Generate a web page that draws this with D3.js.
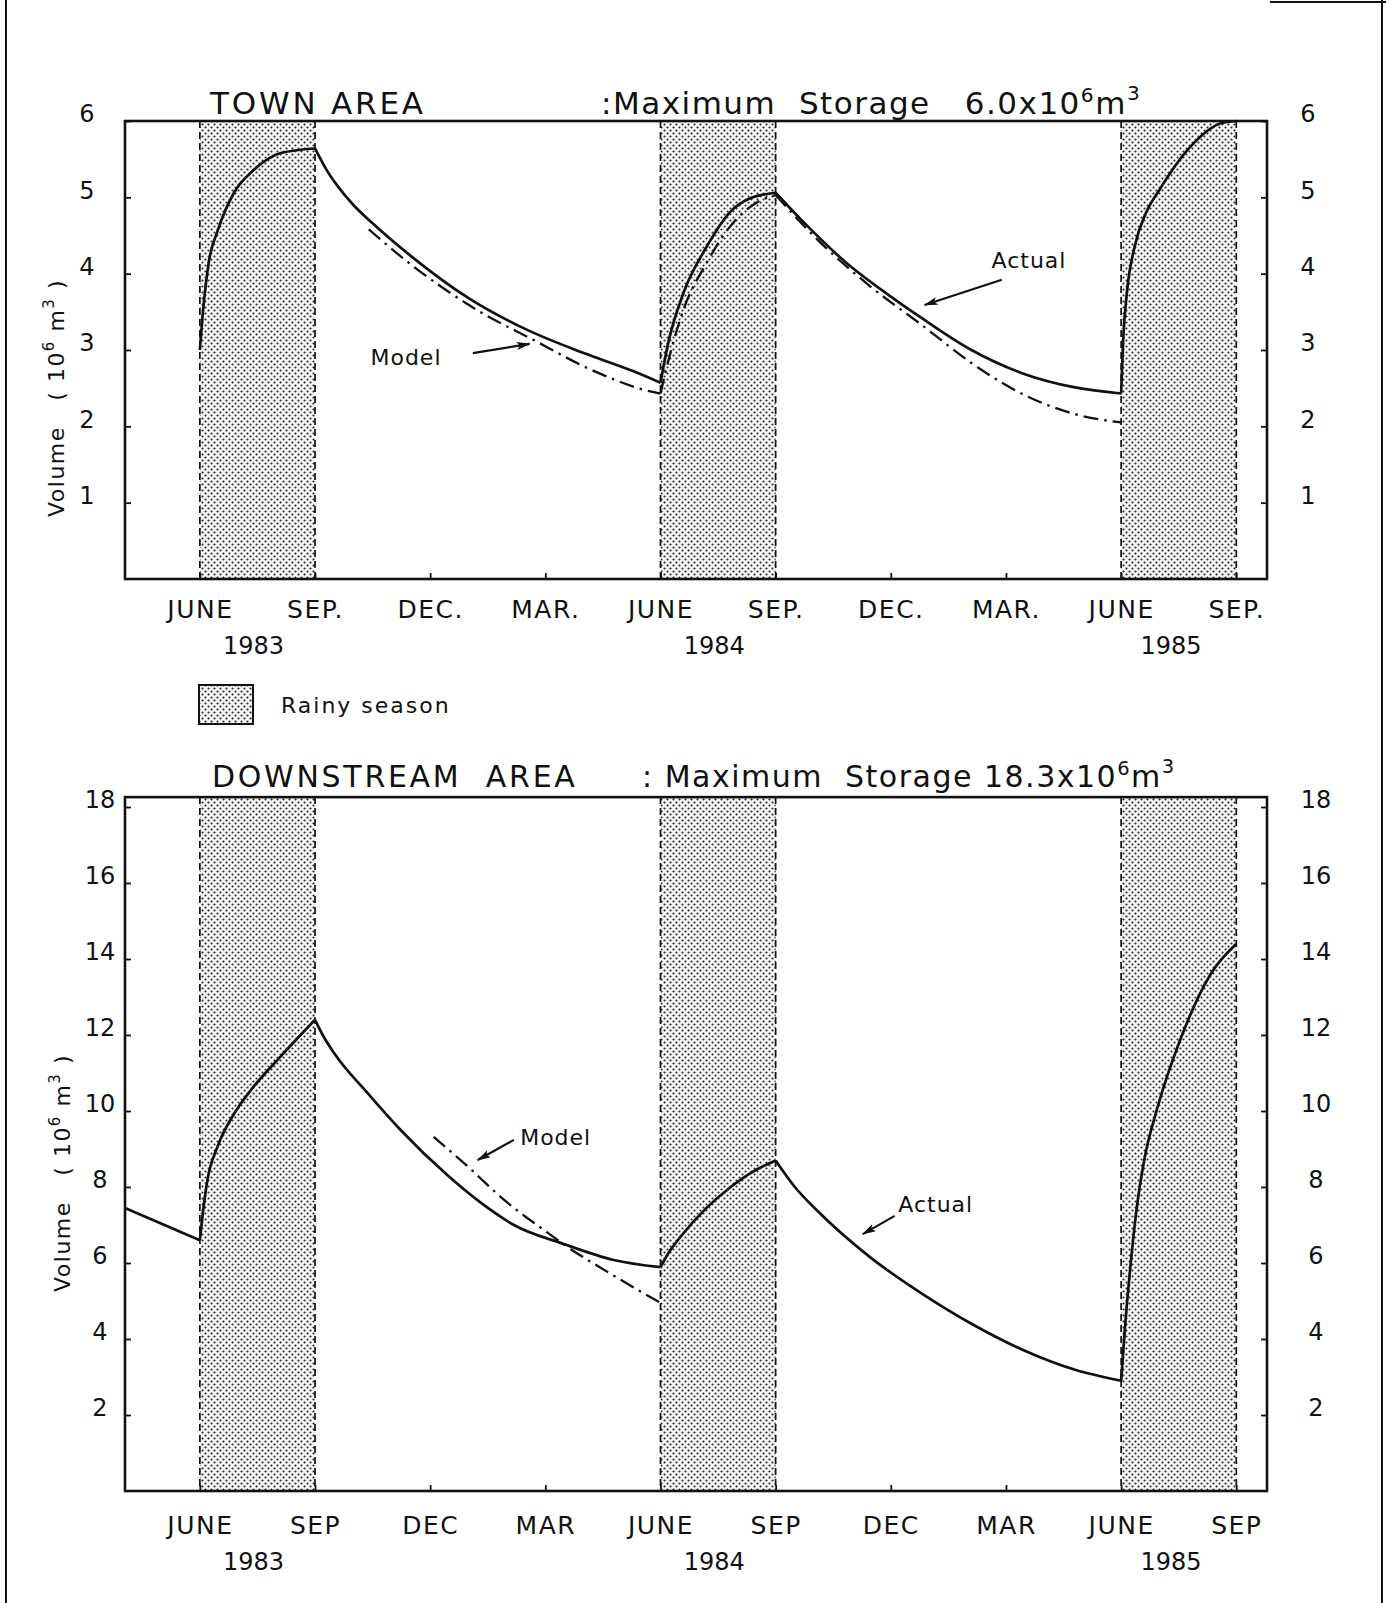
<!DOCTYPE html>
<html>
<head>
<meta charset="utf-8">
<script src="https://cdnjs.cloudflare.com/ajax/libs/d3/7.8.5/d3.min.js"></script>
<style>
body { margin: 0; background: #fff; }
svg text { font-family: "DejaVu Sans", sans-serif; fill: #111; white-space: pre; }
</style>
</head>
<body>
<div id="chart"></div>
<script>
// x values are months counted from June 1983 (0 = JUNE 1983)
var monthTicks = [0, 3, 6, 9, 12, 15, 18, 21, 24, 27];
var monthLabelsTop = ["JUNE", "SEP.", "DEC.", "MAR.", "JUNE", "SEP.", "DEC.", "MAR.", "JUNE", "SEP."];
var monthLabelsBottom = ["JUNE", "SEP", "DEC", "MAR", "JUNE", "SEP", "DEC", "MAR", "JUNE", "SEP"];
var years = ["1983", "1984", "1985"];
var yearMonths = [1.4, 13.4, 25.3];
var rainyStart = [0, 12, 24];
var rainyEnd = [3, 15, 27];
var kinks = [0, 3, 12, 15, 24, 27];

// TOWN AREA, volume in 10^6 m3
var townTicks = [1, 2, 3, 4, 5, 6];
var townActual = [
  [0, 3.0], [0.1, 3.6], [0.23, 4.14], [0.47, 4.57], [0.89, 5.06], [1.41, 5.36], [2.11, 5.58], [3, 5.64],
  [3.3, 5.36], [3.6, 5.14], [4, 4.9], [4.5, 4.66], [5.5, 4.23], [7, 3.68], [8.5, 3.27], [10, 2.96], [11.3, 2.72], [12, 2.57],
  [12.2, 3.09], [12.6, 3.75], [13.2, 4.35], [13.8, 4.8], [14.35, 4.99], [15, 5.06],
  [15.6, 4.74], [16.8, 4.16], [18, 3.7], [18.8, 3.42], [20.1, 3.0], [21.4, 2.7], [22.8, 2.51], [24, 2.43],
  [24.05, 3.1], [24.15, 3.75], [24.35, 4.35], [24.65, 4.8], [25, 5.1], [25.8, 5.66], [26.6, 5.97], [27, 6.0]
];
var townModel = [
  [4.4, 4.58], [5.5, 4.12], [7.2, 3.53], [8.7, 3.13], [10.2, 2.74], [11.8, 2.45], [12, 2.43],
  [12.3, 3.04], [12.6, 3.53], [13.2, 4.14], [13.8, 4.61], [14.5, 4.93], [15, 5.03],
  [16.1, 4.44], [17.4, 3.86], [18.8, 3.33], [20.1, 2.83], [21.4, 2.43], [22.8, 2.16], [24, 2.05]
];

// DOWNSTREAM AREA, volume in 10^6 m3
var downTicks = [2, 4, 6, 8, 10, 12, 14, 16, 18];
var downActual = [
  [-1.95, 7.45], [0, 6.6],
  [0.1, 7.5], [0.2, 8.2], [0.46, 9.06], [0.9, 9.94], [1.4, 10.64], [2.1, 11.43], [3, 12.4],
  [3.2, 12.0], [3.5, 11.52], [4.37, 10.47], [5.23, 9.5], [6.46, 8.3], [7.3, 7.6], [8.18, 7.0], [9.48, 6.5], [10.78, 6.08], [12, 5.89],
  [12.2, 6.25], [12.53, 6.7], [13.2, 7.45], [13.83, 8.0], [14.4, 8.4], [15, 8.7],
  [15.5, 8.0], [16.1, 7.36], [17.4, 6.2], [18.8, 5.2], [20.1, 4.4], [21.4, 3.73], [22.8, 3.19], [24, 2.9],
  [24.1, 4.3], [24.25, 6.0], [24.4, 7.4], [24.6, 8.7], [24.95, 10.1], [25.55, 11.9], [26.33, 13.6], [27, 14.4]
];
var downModel = [
  [6.09, 9.32], [6.88, 8.63], [8.02, 7.58], [8.96, 6.87], [9.58, 6.42], [10.63, 5.76], [12, 4.95]
];

// annotations (text point and arrow, in month / volume units)
var townNotes = [
  { text: "Model", tx: 5.37, ty: 2.9, x1: 7.11, y1: 2.96, x2: 8.59, y2: 3.08 },
  { text: "Actual", tx: 21.6, ty: 4.18, x1: 20.89, y1: 3.92, x2: 18.88, y2: 3.59 }
];
var downNotes = [
  { text: "Model", tx: 9.27, ty: 9.32, x1: 8.18, y1: 9.24, x2: 7.24, y2: 8.71 },
  { text: "Actual", tx: 19.17, ty: 7.55, x1: 18.1, y1: 7.24, x2: 17.27, y2: 6.76 }
];

var W = 1386, H = 1603;
var svg = d3.select("#chart").append("svg").attr("width", W).attr("height", H);

var defs = svg.append("defs");
var pat = defs.append("pattern").attr("id", "dots")
    .attr("patternUnits", "userSpaceOnUse").attr("width", 6).attr("height", 6);
pat.append("rect").attr("width", 6).attr("height", 6).attr("fill", "#f6f6f6");
pat.append("circle").attr("cx", 1.5).attr("cy", 1.5).attr("r", 1.05).attr("fill", "#222");
pat.append("circle").attr("cx", 4.5).attr("cy", 4.5).attr("r", 1.05).attr("fill", "#222");

defs.append("marker").attr("id", "arrow")
    .attr("markerUnits", "userSpaceOnUse").attr("markerWidth", 14).attr("markerHeight", 10)
    .attr("refX", 13).attr("refY", 4).attr("orient", "auto")
  .append("path").attr("d", "M0,0 L14,4 L0,8 L3,4 z").attr("fill", "#111");

var x = d3.scaleLinear().domain([-1.95, 27.8]).range([125, 1267]);

function split(points) {
    var segs = [], cur = [];
    points.forEach(function(p, i) {
        cur.push(p);
        if (i > 0 && i < points.length - 1 && kinks.indexOf(p[0]) >= 0) {
            segs.push(cur);
            cur = [p];
        }
    });
    segs.push(cur);
    return segs;
}

function panel(o) {
    var y = d3.scaleLinear().domain([0, o.ymax]).range([o.bottom, o.top]);
    var g = svg.append("g");
    var top = y(o.frameTop);
    var x0 = x.range()[0], x1 = x.range()[1];

    // rainy season bands
    g.selectAll(".band").data(rainyStart).enter().append("rect")
        .attr("x", function(d) { return x(d); })
        .attr("width", function(d, i) { return x(rainyEnd[i]) - x(d); })
        .attr("y", top).attr("height", o.bottom - top)
        .attr("fill", "url(#dots)");
    g.selectAll(".edge").data(rainyStart.concat(rainyEnd)).enter().append("line")
        .attr("x1", function(d) { return x(d); }).attr("x2", function(d) { return x(d); })
        .attr("y1", top).attr("y2", o.bottom)
        .attr("stroke", "#111").attr("stroke-width", 1.7).attr("stroke-dasharray", "7,4");

    // axes
    var fmt = d3.format("d");
    var left = g.append("g").attr("transform", "translate(" + x0 + ",0)")
        .call(d3.axisLeft(y).tickValues(o.ticks).tickSize(-6).tickFormat(fmt));
    var right = g.append("g").attr("transform", "translate(" + x1 + ",0)")
        .call(d3.axisRight(y).tickValues(o.ticks).tickSize(-6).tickFormat(fmt));
    var bottom = g.append("g").attr("transform", "translate(0," + o.bottom + ")")
        .call(d3.axisBottom(x).tickValues(monthTicks).tickSize(-6)
            .tickFormat(function(d, i) { return o.months[i]; }));
    [left, right, bottom].forEach(function(a) {
        a.select(".domain").remove();
        a.selectAll("line").attr("stroke", "#111").attr("stroke-width", 1.8);
        a.selectAll("text").attr("fill", "#111").style("font-family", "DejaVu Sans");
    });
    left.selectAll("text").attr("text-anchor", "middle").attr("x", o.leftLabel - x0)
        .attr("y", -7).style("font-size", "24px");
    right.selectAll("text").attr("text-anchor", "middle").attr("x", o.rightLabel - x1)
        .attr("y", -7).style("font-size", "24px");
    bottom.selectAll("text").attr("y", o.monthGap).style("font-size", "25px")
        .style("letter-spacing", "1.5px");

    g.selectAll(".year").data(years).enter().append("text")
        .attr("x", function(d, i) { return x(yearMonths[i]); })
        .attr("y", o.bottom + o.yearGap)
        .attr("text-anchor", "middle").style("font-size", "24px")
        .text(function(d) { return d; });

    // frame
    g.append("rect").attr("x", x0).attr("y", top).attr("width", x1 - x0).attr("height", o.bottom - top)
        .attr("fill", "none").attr("stroke", "#111").attr("stroke-width", 2.6);

    // curves
    var line = d3.line().x(function(d) { return x(d[0]); }).y(function(d) { return y(d[1]); })
        .curve(d3.curveMonotoneX);
    g.selectAll(".model").data(split(o.model)).enter().append("path")
        .attr("d", line).attr("fill", "none").attr("stroke", "#111")
        .attr("stroke-width", 2.3).attr("stroke-dasharray", "15,6,2.5,6");
    g.selectAll(".actual").data(split(o.actual)).enter().append("path")
        .attr("d", line).attr("fill", "none").attr("stroke", "#111")
        .attr("stroke-width", 2.7).attr("stroke-linejoin", "round");

    // notes
    o.notes.forEach(function(n) {
        g.append("text").attr("x", x(n.tx)).attr("y", y(n.ty)).attr("dy", "0.35em")
            .attr("text-anchor", "middle").style("font-size", "22px").style("letter-spacing", "1px")
            .text(n.text);
        g.append("line").attr("x1", x(n.x1)).attr("y1", y(n.y1)).attr("x2", x(n.x2)).attr("y2", y(n.y2))
            .attr("stroke", "#111").attr("stroke-width", 2.2).attr("marker-end", "url(#arrow)");
    });

    // titles
    g.append("text").attr("x", o.titleX).attr("y", o.titleY)
        .style("font-size", o.titleSize + "px").style("letter-spacing", o.titleSpacing + "px").text(o.title);
    var st = g.append("text").attr("x", o.storeX).attr("y", o.titleY)
        .style("font-size", o.titleSize + "px").style("letter-spacing", "1.5px");
    st.append("tspan").text(o.storeText);
    st.append("tspan").attr("dy", -12).style("font-size", (o.titleSize * 0.65) + "px").text("6");
    st.append("tspan").attr("dy", 12).text("m");
    st.append("tspan").attr("dy", -14).style("font-size", (o.titleSize * 0.65) + "px").text("3");

    // y label
    var yl = g.append("text")
        .attr("transform", "translate(" + o.ylabX + "," + o.ylabY + ") rotate(-90)")
        .attr("text-anchor", "middle").style("font-size", "22px").style("letter-spacing", "1.5px");
    yl.append("tspan").text("Volume   ( 10");
    yl.append("tspan").attr("dy", -10).style("font-size", "15px").text("6");
    yl.append("tspan").attr("dy", 10).text(" m");
    yl.append("tspan").attr("dy", -10).style("font-size", "15px").text("3");
    yl.append("tspan").attr("dy", 10).text(" )");
}

panel({
    ymax: 6, frameTop: 6, top: 121, bottom: 579, ticks: townTicks,
    months: monthLabelsTop, monthGap: 21, yearGap: 75,
    leftLabel: 87, rightLabel: 1308,
    actual: townActual, model: townModel, notes: townNotes,
    title: "TOWN AREA", titleX: 210, titleY: 114, titleSize: 31, titleSpacing: 2.8,
    storeX: 601, storeText: ":Maximum  Storage   6.0x10",
    ylabX: 64, ylabY: 398
});

panel({
    ymax: 18, frameTop: 18.26, top: 807, bottom: 1491, ticks: downTicks,
    months: monthLabelsBottom, monthGap: 25, yearGap: 79,
    leftLabel: 100, rightLabel: 1316,
    actual: downActual, model: downModel, notes: downNotes,
    title: "DOWNSTREAM  AREA", titleX: 212, titleY: 787, titleSize: 30, titleSpacing: 2.7,
    storeX: 642, storeText: ": Maximum  Storage 18.3x10",
    ylabX: 70, ylabY: 1173
});

// legend
var leg = svg.append("g");
leg.append("rect").attr("x", 199).attr("y", 685).attr("width", 54).attr("height", 39)
    .attr("fill", "url(#dots)").attr("stroke", "#111").attr("stroke-width", 2);
leg.append("text").attr("x", 281).attr("y", 705).attr("dy", "0.35em")
    .style("font-size", "22px").style("letter-spacing", "2px").text("Rainy season");

// page border
svg.append("line").attr("x1", 6).attr("x2", 6).attr("y1", 0).attr("y2", H)
    .attr("stroke", "#111").attr("stroke-width", 2);
svg.append("line").attr("x1", 1382).attr("x2", 1382).attr("y1", 0).attr("y2", H)
    .attr("stroke", "#111").attr("stroke-width", 2);
svg.append("line").attr("x1", 1270).attr("x2", 1386).attr("y1", 2).attr("y2", 2)
    .attr("stroke", "#111").attr("stroke-width", 2);
</script>
</body>
</html>
